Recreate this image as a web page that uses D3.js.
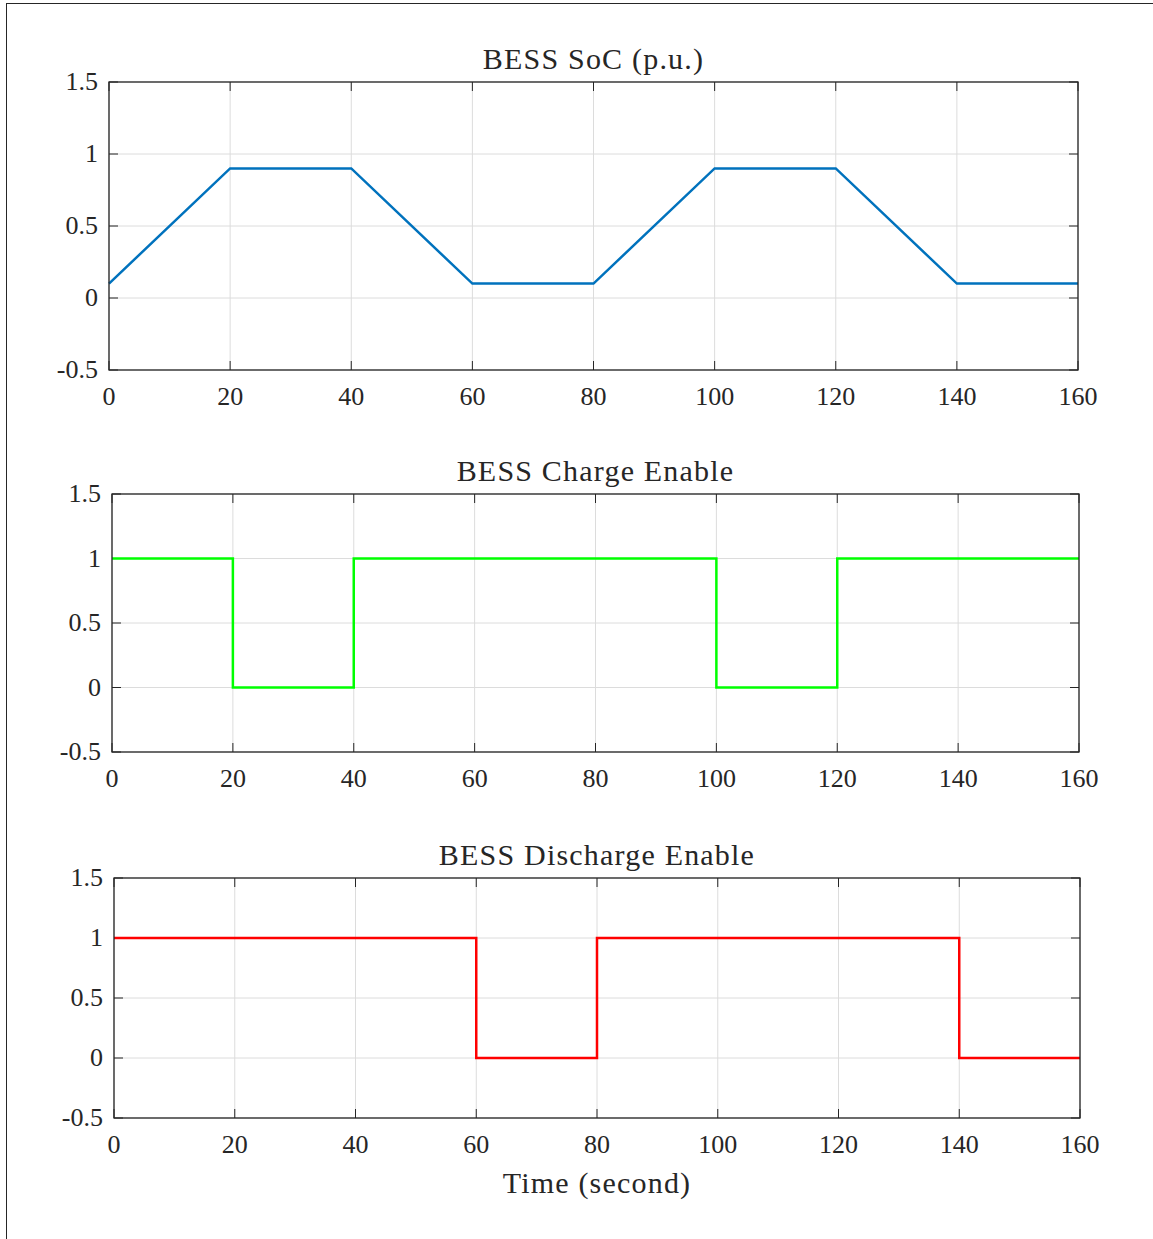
<!DOCTYPE html>
<html lang="en">
<head>
    <meta charset="UTF-8">
    <title>BESS SoC and Enable Signals</title>
    <script src="https://d3js.org/d3.v7.min.js"></script>
    <style>
        body { margin: 0; padding: 0; background: #ffffff; }
        svg { display: block; }
        text { font-family: "Liberation Serif", "DejaVu Serif", serif; fill: #262626; }
    </style>
</head>
<body>
    <svg width="1153" height="1239"></svg>
    <script>
        // time axis ticks and y ticks
        const xTicks = [0, 20, 40, 60, 80, 100, 120, 140, 160];
        const yTicks = [-0.5, 0, 0.5, 1, 1.5];

        // SoC trace (p.u.)
        const socTime = [0, 20, 40, 60, 80, 100, 120, 140, 160];
        const socValue = [0.1, 0.9, 0.9, 0.1, 0.1, 0.9, 0.9, 0.1, 0.1];

        // enable signals (step-after)
        const chargeTime = [0, 20, 40, 100, 120, 160];
        const chargeValue = [1, 0, 1, 0, 1, 1];
        const dischargeTime = [0, 60, 80, 140, 160];
        const dischargeValue = [1, 0, 1, 0, 0];

        const panels = [
            { title: "BESS SoC (p.u.)", t: socTime, v: socValue, color: "#0072BD", curve: d3.curveLinear,
              left: 109, right: 1078, top: 82, bottom: 370 },
            { title: "BESS Charge Enable", t: chargeTime, v: chargeValue, color: "#00FF00", curve: d3.curveStepAfter,
              left: 112, right: 1079, top: 494, bottom: 752 },
            { title: "BESS Discharge Enable", t: dischargeTime, v: dischargeValue, color: "#FF0000", curve: d3.curveStepAfter,
              left: 114, right: 1080, top: 878, bottom: 1118 }
        ];

        const svg = d3.select("svg");

        // figure frame
        svg.append("rect")
            .attr("x", 6.5).attr("y", 3.5)
            .attr("width", 1160).attr("height", 1250)
            .attr("fill", "none").attr("stroke", "#262626").attr("stroke-width", 1);

        const axisColor = "#262626";
        const tickLen = 9;

        panels.forEach((p, i) => {
            const x = d3.scaleLinear().domain([0, 160]).range([p.left, p.right]);
            const y = d3.scaleLinear().domain([-0.5, 1.5]).range([p.bottom, p.top]);
            const g = svg.append("g");

            // grid
            g.selectAll(".vgrid").data(xTicks).join("line")
                .attr("x1", d => x(d)).attr("x2", d => x(d))
                .attr("y1", p.top).attr("y2", p.bottom)
                .attr("stroke", "#dcdcdc").attr("stroke-width", 1);
            g.selectAll(".hgrid").data(yTicks).join("line")
                .attr("x1", p.left).attr("x2", p.right)
                .attr("y1", d => y(d)).attr("y2", d => y(d))
                .attr("stroke", "#dcdcdc").attr("stroke-width", 1);

            // inward ticks on all four sides
            const ticks = g.append("g").attr("stroke", axisColor).attr("stroke-width", 1);
            xTicks.forEach(d => {
                ticks.append("line").attr("x1", x(d)).attr("x2", x(d)).attr("y1", p.bottom).attr("y2", p.bottom - tickLen);
                ticks.append("line").attr("x1", x(d)).attr("x2", x(d)).attr("y1", p.top).attr("y2", p.top + tickLen);
            });
            yTicks.forEach(d => {
                ticks.append("line").attr("x1", p.left).attr("x2", p.left + tickLen).attr("y1", y(d)).attr("y2", y(d));
                ticks.append("line").attr("x1", p.right).attr("x2", p.right - tickLen).attr("y1", y(d)).attr("y2", y(d));
            });

            // data
            const line = d3.line().x(d => x(d[0])).y(d => y(d[1])).curve(p.curve);
            g.append("path")
                .datum(p.t.map((t, k) => [t, p.v[k]]))
                .attr("d", line)
                .attr("fill", "none")
                .attr("stroke", p.color)
                .attr("stroke-width", 2.5);

            // box
            g.append("rect")
                .attr("x", p.left).attr("y", p.top)
                .attr("width", p.right - p.left).attr("height", p.bottom - p.top)
                .attr("fill", "none").attr("stroke", axisColor).attr("stroke-width", 1.3);

            // tick labels
            g.selectAll(".xl").data(xTicks).join("text")
                .attr("x", d => x(d)).attr("y", p.bottom + 35)
                .attr("text-anchor", "middle")
                .attr("font-size", 26)
                .text(d => d);
            g.selectAll(".yl").data(yTicks).join("text")
                .attr("x", p.left - 11).attr("y", d => y(d) + 8)
                .attr("text-anchor", "end")
                .attr("font-size", 26)
                .text(d => d);

            // title
            g.append("text")
                .attr("x", (p.left + p.right) / 2).attr("y", p.top - 13)
                .attr("text-anchor", "middle")
                .attr("font-size", 30)
                .attr("letter-spacing", 1.2)
                .text(p.title);

            if (i === panels.length - 1) {
                g.append("text")
                    .attr("x", (p.left + p.right) / 2).attr("y", p.bottom + 75)
                    .attr("text-anchor", "middle")
                    .attr("font-size", 30)
                    .attr("letter-spacing", 1.2)
                    .text("Time (second)");
            }
        });
    </script>
</body>
</html>
